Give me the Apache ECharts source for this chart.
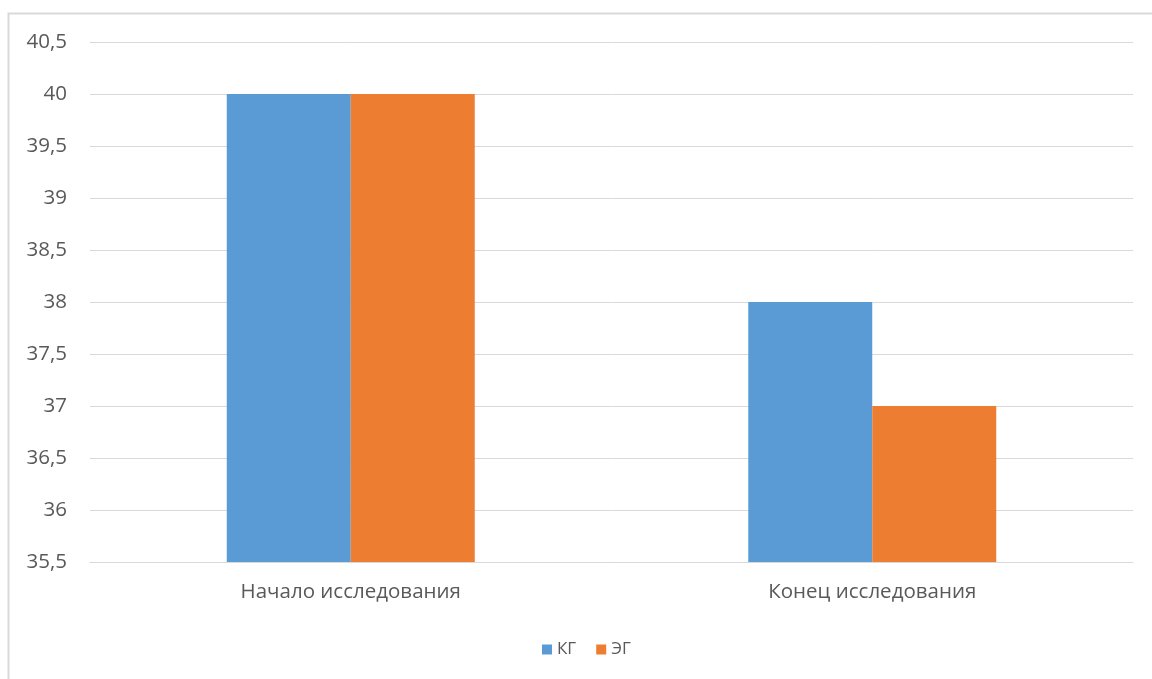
<!DOCTYPE html>
<html>
<head>
<meta charset="utf-8">
<script src="https://cdn.jsdelivr.net/npm/echarts@6/dist/echarts.min.js"></script>
<style>
  html, body { margin: 0; padding: 0; background: #fff; }
  #chart { width: 1152px; height: 679px; }
</style>
</head>
<body>
<div id="chart"></div>
<script>
// Категории и значения групп
const categories = ['Начало исследования', 'Конец исследования'];
const seriesNames = ['КГ', 'ЭГ'];
const kgValues = [40, 38];
const egValues = [40, 37];
const yMin = 35.5;
const yMax = 40.5;
const yStep = 0.5;

const labelColor = '#595959';
const fontFamily = '"Open Sans", "Noto Sans", sans-serif';

const chart = echarts.init(document.getElementById('chart'));
chart.setOption({
  animation: false,
  backgroundColor: '#fff',
  graphic: [{
    type: 'rect',
    shape: { x: 8.5, y: 13.5, width: 1300, height: 800 },
    style: { fill: 'none', stroke: '#d9d9d9', lineWidth: 2 },
    silent: true
  }],
  grid: { left: 90, right: 19, top: 42, bottom: 117, containLabel: false },
  legend: {
    data: seriesNames,
    top: 636,
    left: 537,
    icon: 'rect',
    itemWidth: 10,
    itemHeight: 10,
    itemGap: 20,
    textStyle: { color: labelColor, fontSize: 17, fontFamily: fontFamily }
  },
  xAxis: {
    type: 'category',
    data: categories,
    axisTick: { show: false },
    axisLine: { show: true, lineStyle: { color: '#d9d9d9', width: 1 } },
    axisLabel: { color: labelColor, fontSize: 20.5, fontFamily: fontFamily, margin: 20 }
  },
  yAxis: {
    type: 'value',
    min: yMin,
    max: yMax,
    interval: yStep,
    axisLine: { show: false },
    axisTick: { show: false },
    splitLine: { lineStyle: { color: '#d9d9d9', width: 1 } },
    axisLabel: {
      color: labelColor, fontSize: 20.5, fontFamily: fontFamily, margin: 23,
      formatter: v => String(+v.toFixed(1)).replace('.', ',')
    }
  },
  series: [
    { name: seriesNames[0], type: 'bar', data: kgValues, barWidth: 124, barGap: '0%',
      itemStyle: { color: '#5b9bd5' } },
    { name: seriesNames[1], type: 'bar', data: egValues, barWidth: 124,
      itemStyle: { color: '#ed7d31' } }
  ]
});
</script>
</body>
</html>
